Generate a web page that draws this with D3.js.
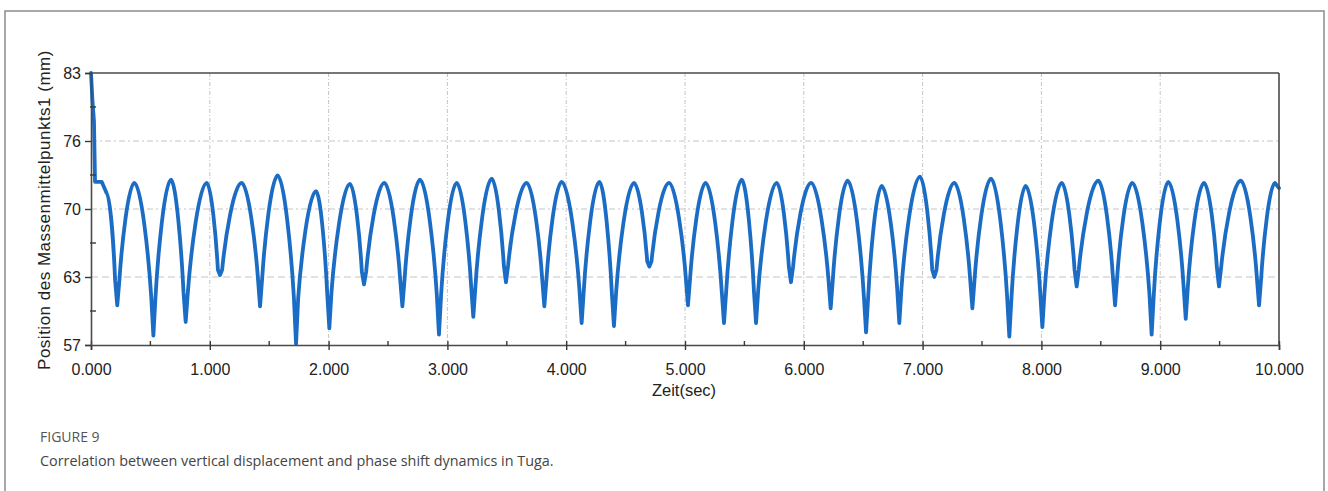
<!DOCTYPE html>
<html>
<head>
<meta charset="utf-8">
<script src="https://cdn.jsdelivr.net/npm/d3@7"></script>
<style>
  html, body { margin: 0; padding: 0; background: #fff; }
  svg { display: block; }
</style>
</head>
<body>
<svg id="chart" width="1328" height="491"></svg>
<script>
// values
const yTickValues = [57, 63.5, 70, 76.5, 83];
const yTickLabels = ['57', '63', '70', '76', '83'];
const xTickValues = [0, 1, 2, 3, 4, 5, 6, 7, 8, 9, 10];
const xTickLabels = ['0.000', '1.000', '2.000', '3.000', '4.000', '5.000', '6.000', '7.000', '8.000', '9.000', '10.000'];

// settling at the start of the run
const startTimes = [0, 0.012, 0.025, 0.034, 0.09, 0.132];
const startValues = [83, 80.4, 78.4, 72.6, 72.6, 71.5];

const troughTimes = [0.221, 0.525, 0.797, 1.086, 1.423, 1.726, 2.006, 2.298, 2.621, 2.929, 3.218,
  3.493, 3.816, 4.130, 4.402, 4.700, 5.025, 5.328, 5.598, 5.892, 6.226, 6.524,
  6.804, 7.099, 7.419, 7.730, 8.008, 8.297, 8.620, 8.928, 9.215, 9.495, 9.832];
const troughValues = [60.8, 57.9, 59.2, 63.7, 60.7, 57.1, 58.6, 62.8, 60.7, 58.0, 59.7,
  63.0, 60.7, 59.1, 58.8, 64.5, 60.8, 59.1, 59.1, 63.0, 60.5, 58.2,
  59.1, 63.5, 60.5, 57.8, 58.7, 62.6, 60.8, 58.0, 59.5, 62.6, 60.8];
// level where the narrow dip starts
const shoulderValues = [63.2, 61.6, 62.0, 64.2, 63.4, 61.5, 62.0, 64.0, 63.2, 61.8, 62.6,
  64.6, 63.3, 62.2, 62.0, 65.0, 63.4, 62.0, 62.2, 64.5, 63.2, 61.6,
  62.4, 64.2, 63.2, 61.5, 62.0, 64.2, 63.5, 61.8, 62.6, 64.4, 63.4];

const peakTimes = [0.365, 0.673, 0.974, 1.268, 1.571, 1.894, 2.180, 2.469, 2.769, 3.078, 3.373,
  3.667, 3.962, 4.279, 4.571, 4.865, 5.174, 5.477, 5.772, 6.061, 6.369, 6.655,
  6.978, 7.267, 7.576, 7.868, 8.171, 8.479, 8.765, 9.068, 9.369, 9.678, 9.966];
const peakValues = [72.5, 72.8, 72.5, 72.5, 73.2, 71.7, 72.4, 72.5, 72.8, 72.5, 72.9,
  72.5, 72.6, 72.6, 72.5, 72.5, 72.5, 72.8, 72.5, 72.5, 72.7, 72.2,
  73.1, 72.5, 72.9, 72.2, 72.5, 72.7, 72.5, 72.6, 72.5, 72.7, 72.5];
const endTime = 10.0;
const endValue = 72.0;

const svg = d3.select('#chart');
const plot = {left: 91, top: 73, right: 1279, bottom: 345};
const axisFont = '"Liberation Sans", Arial, sans-serif';

const x = d3.scaleLinear().domain([0, 10]).range([plot.left, plot.right]);
const y = d3.scaleLinear().domain([57, 83]).range([plot.bottom, plot.top]);

// outer figure frame
svg.append('rect')
    .attr('x', 5).attr('y', 11)
    .attr('width', 1319).attr('height', 500)
    .attr('fill', 'none')
    .attr('stroke', '#8c8c8c')
    .attr('stroke-width', 1.5);

// grid
const grid = svg.append('g');
grid.selectAll('.hgrid')
    .data(yTickValues.slice(1, -1))
    .enter().append('line')
    .attr('x1', plot.left).attr('x2', plot.right)
    .attr('y1', (d) => y(d)).attr('y2', (d) => y(d))
    .attr('stroke', '#c4c4c4')
    .attr('stroke-width', 1)
    .attr('stroke-dasharray', (d, i) => i === 0 ? '7,4' : '6,3,2,3');

grid.selectAll('.vgrid')
    .data(xTickValues.slice(1, -1))
    .enter().append('line')
    .attr('x1', (d) => x(d)).attr('x2', (d) => x(d))
    .attr('y1', plot.top).attr('y2', plot.bottom)
    .attr('stroke', '#c4c4c4')
    .attr('stroke-width', 1)
    .attr('stroke-dasharray', '4,2,1,2');

// signal path: rounded tops, steep sides, narrow dips at the bottom
const dipHalfWidth = 0.018;
const path = d3.path();
path.moveTo(x(startTimes[0]), y(startValues[0]));
for (let i = 1; i < startTimes.length; i++) {
    path.lineTo(x(startTimes[i]), y(startValues[i]));
}
let px = x(startTimes[startTimes.length - 1]);
let py = y(startValues[startValues.length - 1]);

const fallTo = (x1, y1) => {
    const dx = x1 - px, dy = y1 - py;
    path.bezierCurveTo(px + 0.4 * dx, py, x1 - 0.15 * dx, y1 - 0.35 * dy, x1, y1);
    px = x1; py = y1;
};
const riseTo = (x1, y1) => {
    const dx = x1 - px, dy = y1 - py;
    path.bezierCurveTo(px + 0.15 * dx, py + 0.35 * dy, x1 - 0.4 * dx, y1, x1, y1);
    px = x1; py = y1;
};

troughTimes.forEach((t, i) => {
    fallTo(x(t - dipHalfWidth), y(shoulderValues[i]));
    path.lineTo(x(t), y(troughValues[i]));
    path.lineTo(x(t + dipHalfWidth), y(shoulderValues[i]));
    px = x(t + dipHalfWidth); py = y(shoulderValues[i]);
    riseTo(x(peakTimes[i]), y(peakValues[i]));
});
path.lineTo(x(endTime), y(endValue));

svg.append('path')
    .attr('d', path.toString())
    .attr('fill', 'none')
    .attr('stroke', '#1b6cc4')
    .attr('stroke-width', 3.8)
    .attr('stroke-linejoin', 'round')
    .attr('stroke-linecap', 'round');

// plot frame
const frame = svg.append('g').attr('stroke', '#4a4a4a').attr('stroke-width', 1.6);
frame.append('line').attr('x1', plot.left).attr('x2', plot.right).attr('y1', plot.top).attr('y2', plot.top);
frame.append('line').attr('x1', plot.right).attr('x2', plot.right).attr('y1', plot.top).attr('y2', plot.bottom);

// axes
const xAxis = d3.axisBottom(x)
    .tickValues(xTickValues)
    .tickFormat((d, i) => xTickLabels[i])
    .tickSize(5)
    .tickPadding(14);
const gx = svg.append('g')
    .attr('transform', `translate(0,${plot.bottom})`)
    .call(xAxis);

const yAxis = d3.axisLeft(y)
    .tickValues(yTickValues)
    .tickFormat((d, i) => yTickLabels[i])
    .tickSize(6)
    .tickPadding(4);
const gy = svg.append('g')
    .attr('transform', `translate(${plot.left},0)`)
    .call(yAxis);

[gx, gy].forEach((g) => {
    g.select('.domain').attr('stroke', '#4a4a4a').attr('stroke-width', 1.6);
    g.selectAll('.tick line').attr('stroke', '#3a3a3a').attr('stroke-width', 1.4);
    g.selectAll('.tick text')
        .attr('font-family', axisFont)
        .attr('font-size', 16)
        .attr('fill', '#222');
});
// major x ticks cross the axis line
gx.selectAll('.tick line').attr('y1', -4).attr('y2', 5);

// minor ticks (inside)
const xMinor = d3.range(0.5, 10, 1);
svg.append('g').selectAll('line')
    .data(xMinor)
    .enter().append('line')
    .attr('x1', (d) => x(d)).attr('x2', (d) => x(d))
    .attr('y1', plot.bottom - 4).attr('y2', plot.bottom + 1)
    .attr('stroke', '#3a3a3a').attr('stroke-width', 1.4);
const yMinor = [60.25, 66.75, 73.25, 79.75];
svg.append('g').selectAll('line')
    .data(yMinor)
    .enter().append('line')
    .attr('x1', plot.left - 1).attr('x2', plot.left + 5)
    .attr('y1', (d) => y(d)).attr('y2', (d) => y(d))
    .attr('stroke', '#3a3a3a').attr('stroke-width', 1.4);

// axis titles
svg.append('text')
    .attr('x', 684)
    .attr('y', 396)
    .attr('text-anchor', 'middle')
    .attr('font-family', axisFont)
    .attr('font-size', 16.5)
    .attr('fill', '#222')
    .text('Zeit(sec)');

svg.append('text')
    .attr('transform', `translate(50,210) rotate(-90)`)
    .attr('text-anchor', 'middle')
    .attr('font-family', axisFont)
    .attr('font-size', 17)
    .attr('letter-spacing', 0.5)
    .attr('fill', '#222')
    .text('Position des Massenmittelpunkts1 (mm)');

// caption
svg.append('text')
    .attr('x', 40).attr('y', 442)
    .attr('font-family', '"Open Sans", sans-serif')
    .attr('font-size', 14)
    .attr('fill', '#555')
    .text('FIGURE 9');
svg.append('text')
    .attr('x', 40).attr('y', 466)
    .attr('font-family', '"Open Sans", sans-serif')
    .attr('font-size', 14.4)
    .attr('fill', '#444')
    .text('Correlation between vertical displacement and phase shift dynamics in Tuga.');
</script>
</body>
</html>
